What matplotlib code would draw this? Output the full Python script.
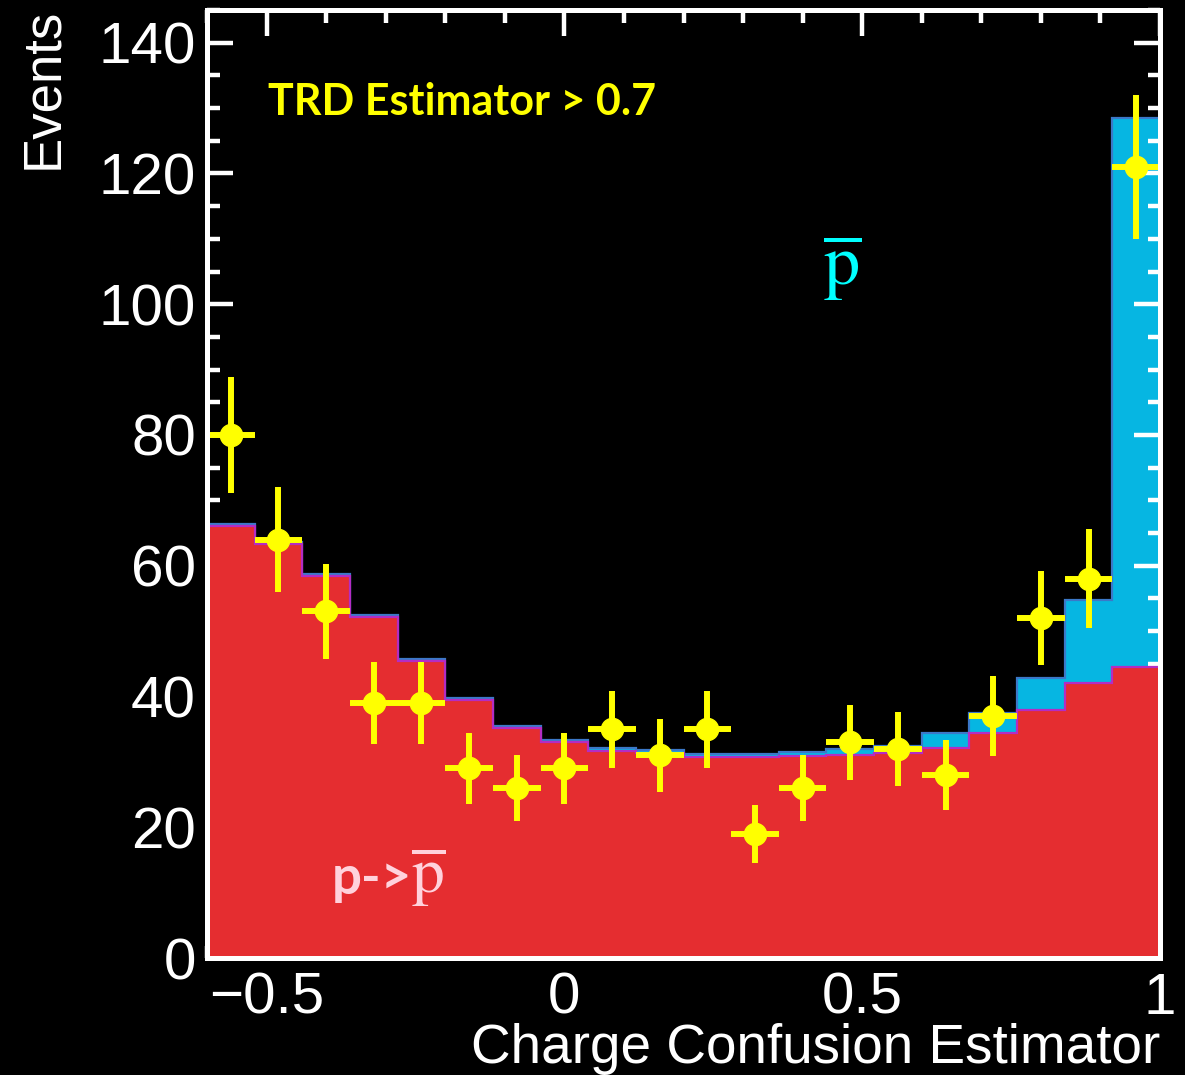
import numpy as np
import matplotlib
matplotlib.use('Agg')
import matplotlib.pyplot as plt
from matplotlib.ticker import MultipleLocator

plt.rcParams['mathtext.fontset'] = 'stix'

# binning of the charge confusion estimator
bin_lo = -0.6
bin_width = 0.08
n_bins = 20

# MC template: p -> pbar (charge confused protons)
cc_proton = [66.1, 63.3, 58.4, 52.2, 45.4, 39.5, 35.2, 33.0, 31.7, 31.4,
             30.8, 30.8, 30.9, 31.1, 31.4, 32.1, 34.4, 37.9, 42.1, 44.5]
# MC template: antiprotons (stacked on top)
antiproton = [0.3, 0.3, 0.3, 0.3, 0.3, 0.3, 0.3, 0.3, 0.4, 0.4,
              0.4, 0.4, 0.6, 0.9, 1.1, 2.3, 3.1, 4.9, 12.7, 84.0]
# data
data_counts = [80, 64, 53, 39, 39, 29, 26, 29, 35, 31,
               35, 19, 26, 33, 32, 28, 37, 52, 58, 121]
data_err = [8.9, 8.0, 7.3, 6.2, 6.2, 5.4, 5.1, 5.4, 5.9, 5.6,
            5.9, 4.4, 5.1, 5.7, 5.7, 5.3, 6.1, 7.2, 7.6, 11.0]

edges = bin_lo + bin_width * np.arange(n_bins + 1)
centers = 0.5 * (edges[:-1] + edges[1:])
cc = np.array(cc_proton)
total = cc + np.array(antiproton)

fig = plt.figure(figsize=(11.85, 10.75), dpi=100, facecolor='black')
ax = fig.add_axes([207 / 1185, 117 / 1075, 953 / 1185, 948 / 1075])
ax.set_facecolor('black')

red = '#e52d30'
cyan = '#06b6e2'

ax.stairs(total, edges, fill=True, color=cyan, zorder=1)
ax.stairs(total, edges, color='#3b78c8', lw=1.6, zorder=2)
ax.stairs(cc, edges, fill=True, color=red, zorder=3)
ax.stairs(cc, edges, color='#b42cc4', lw=1.6, zorder=4)

ax.errorbar(centers, data_counts, yerr=data_err, xerr=bin_width / 2,
            fmt='o', color='#ffff00', ms=16, lw=4.3, capsize=0, zorder=5)

ax.set_xlim(-0.6, 1.0)
ax.set_ylim(0, 145)

# white frame, ticks on all sides
for s in ax.spines.values():
    s.set_color('white')
    s.set_linewidth(3.6)
    s.set_zorder(10)
ax.xaxis.set_major_locator(MultipleLocator(0.5))
ax.xaxis.set_minor_locator(MultipleLocator(0.1))
ax.yaxis.set_major_locator(MultipleLocator(20))
ax.yaxis.set_minor_locator(MultipleLocator(5))
ax.tick_params(which='both', direction='in', top=True, right=True,
               colors='white', width=3.2, labelsize=42)
ax.tick_params(which='major', length=19)
ax.tick_params(which='minor', length=9)
ax.tick_params(axis='x', pad=10)
ax.tick_params(axis='y', pad=8)
ax.set_xticks([-0.5, 0, 0.5, 1.0])
ax.set_xticklabels(['\u22120.5', '0', '0.5', '1'])
for lab in ax.get_xticklabels() + ax.get_yticklabels():
    lab.set_family('Liberation Sans')

fig.text(18 / 1185, 1 - 8 / 1075, 'Events', rotation=90, ha='left', va='top',
         color='white', fontsize=38, family='Liberation Sans')
fig.text(1160 / 1185, 0.0, 'Charge Confusion Estimator', ha='right',
         va='bottom', color='white', fontsize=39.5, family='Liberation Sans')

ax.text(0.064, 0.903, 'TRD Estimator > 0.7', transform=ax.transAxes,
        color='#ffff00', fontsize=31, fontweight='bold', family='Lato',
        ha='left', va='center')
ax.text(0.666, 0.728, r'$\overline{\mathrm{p}}$', transform=ax.transAxes,
        color='#00ffff', fontsize=52, ha='center', va='center')
ax.text(0.131, 0.068, 'p->', transform=ax.transAxes, color='#ffd2dc',
        fontsize=38, fontweight='bold', family='Lato', ha='left',
        va='baseline')
ax.text(0.214, 0.068, r'$\overline{\mathrm{p}}$', transform=ax.transAxes,
        color='#ffd2dc', fontsize=47, ha='left', va='baseline')

fig.savefig('out.png', dpi=100, facecolor='black')
